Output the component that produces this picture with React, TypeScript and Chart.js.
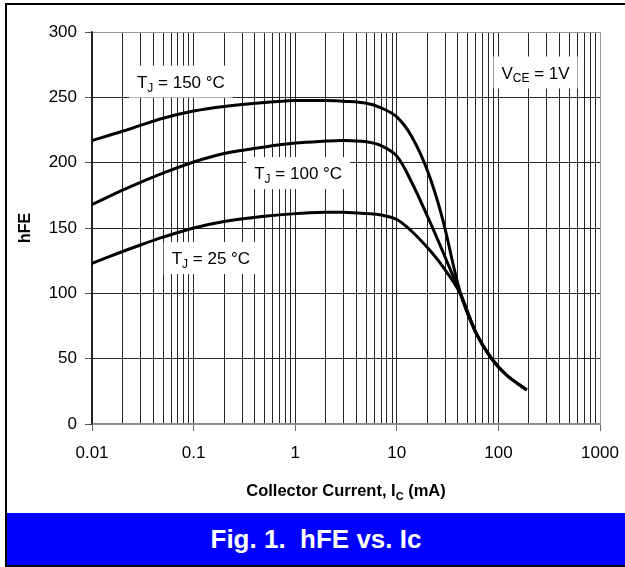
import React, { useEffect, useRef } from "react";
import { Chart, registerables } from "chart.js";

Chart.register(...registerables);

// ---- data ----
const IC_MA = [0.01, 0.02, 0.03, 0.05, 0.1, 0.2, 0.5, 1, 2, 3, 5, 7, 10, 14, 20, 28, 42, 60, 85, 120, 190];
const HFE_150 = [217, 224, 228.5, 234, 239.5, 243, 246, 247.5, 247.5, 247, 245.5, 242, 235, 220, 194, 158, 101, 70, 50.5, 37.5, 26];
const HFE_100 = [168, 179, 185, 192, 200.5, 207, 212, 215, 216.5, 217, 216, 213, 205, 185, 159, 133, 100, 70, 50.5, 37.5, 26];
const HFE_25 = [123, 132, 137, 143, 150, 155, 159, 161, 162, 162, 161, 160, 156.5, 147.5, 135, 121, 100, 70, 50.5, 37.5, 26];

const X_DECADES = [0.01, 0.1, 1, 10, 100, 1000];
const X_TICK_LABELS = ["0.01", "0.1", "1", "10", "100", "1000"];
const X_MINOR_STEPS = [1, 2, 3, 4, 5, 6, 7, 8, 9];
const Y_MIN = 0;
const Y_MAX = 300;
const Y_STEP = 50;

type Part = { t: string; sub?: boolean };
const CURVE_LABELS: { x: number; y: number; parts: Part[] }[] = [
  { x: 0.075, y: 262, parts: [{ t: "T" }, { t: "J", sub: true }, { t: " = 150 °C" }] },
  { x: 1.07, y: 192, parts: [{ t: "T" }, { t: "J", sub: true }, { t: " = 100 °C" }] },
  { x: 0.148, y: 127, parts: [{ t: "T" }, { t: "J", sub: true }, { t: " = 25 °C" }] },
  { x: 232, y: 269, parts: [{ t: "V" }, { t: "CE", sub: true }, { t: " = 1V" }] },
];
const Y_TITLE = "hFE";
const X_TITLE: Part[] = [{ t: "Collector Current, I" }, { t: "C", sub: true }, { t: " (mA)" }];
const FIG_TITLE = "Fig. 1.  hFE vs. Ic";

const FONT = '"Liberation Sans", Arial, Helvetica, sans-serif';

function isDecade(v: number) {
  const l = Math.log10(v);
  return Math.abs(l - Math.round(l)) < 1e-9;
}

function drawRich(ctx: CanvasRenderingContext2D, parts: Part[], cx: number, cy: number, size: number, bold: boolean) {
  const w = bold ? "bold " : "";
  const main = `${w}${size}px ${FONT}`;
  const subSize = Math.round(size * 0.68);
  const sub = `${w}${subSize}px ${FONT}`;
  let total = 0;
  const widths = parts.map((p) => {
    ctx.font = p.sub ? sub : main;
    const m = ctx.measureText(p.t).width;
    total += m;
    return m;
  });
  let x = cx - total / 2;
  const base = cy + size * 0.36;
  ctx.textBaseline = "alphabetic";
  ctx.textAlign = "left";
  parts.forEach((p, i) => {
    ctx.font = p.sub ? sub : main;
    ctx.fillText(p.t, x, p.sub ? base + size * 0.22 : base);
    x += widths[i];
  });
  return total;
}

function measureRich(ctx: CanvasRenderingContext2D, parts: Part[], size: number) {
  const main = `${size}px ${FONT}`;
  const sub = `${Math.round(size * 0.68)}px ${FONT}`;
  let total = 0;
  parts.forEach((p) => {
    ctx.font = p.sub ? sub : main;
    total += ctx.measureText(p.t).width;
  });
  return total;
}

const labelPlugin = {
  id: "curveLabels",
  beforeDatasetsDraw(chart: any) {
    const ctx: CanvasRenderingContext2D = chart.ctx;
    const xs = chart.scales.x;
    const ys = chart.scales.y;
    ctx.save();
    CURVE_LABELS.forEach((l) => {
      const cx = xs.getPixelForValue(l.x);
      const cy = ys.getPixelForValue(l.y);
      const w = measureRich(ctx, l.parts, 17);
      ctx.fillStyle = "#ffffff";
      ctx.fillRect(cx - w / 2 - 8, cy - 16, w + 16, 32);
      ctx.fillStyle = "#000000";
      drawRich(ctx, l.parts, cx, cy, 17, false);
    });
    ctx.restore();
  },
  afterDraw(chart: any) {
    const ctx: CanvasRenderingContext2D = chart.ctx;
    const a = chart.chartArea;
    ctx.save();
    ctx.fillStyle = "#000000";
    ctx.translate(26, (a.top + a.bottom) / 2);
    ctx.rotate(-Math.PI / 2);
    ctx.font = `bold 16px ${FONT}`;
    ctx.textAlign = "center";
    ctx.textBaseline = "middle";
    ctx.fillText(Y_TITLE, 0, 0);
    ctx.restore();
    ctx.save();
    ctx.fillStyle = "#000000";
    drawRich(ctx, X_TITLE, (a.left + a.right) / 2, a.bottom + 66, 16.5, true);
    ctx.restore();
  },
};

export default function App() {
  const ref = useRef<HTMLCanvasElement>(null);

  useEffect(() => {
    if (!ref.current) return;
    const mk = (ys: number[]) => IC_MA.map((x, i) => ({ x, y: ys[i] }));
    const ds = (ys: number[]) => ({
      data: mk(ys),
      borderColor: "#000000",
      borderWidth: 3,
      pointRadius: 0,
      fill: false,
      tension: 0.35,
    });
    const chart = new Chart(ref.current, {
      type: "line",
      data: { datasets: [ds(HFE_150), ds(HFE_100), ds(HFE_25)] },
      options: {
        animation: false,
        responsive: false,
        events: [],
        layout: { padding: { left: 0, top: 32, right: 25, bottom: 0 } },
        plugins: { legend: { display: false }, tooltip: { enabled: false }, title: { display: false } },
        scales: {
          x: {
            type: "logarithmic",
            min: X_DECADES[0],
            max: X_DECADES[X_DECADES.length - 1],
            afterFit: (s: any) => {
              s.height = 89;
              s.paddingLeft = 0;
              s.paddingRight = 0;
            },
            afterBuildTicks: (s: any) => {
              const t: any[] = [];
              for (let d = 0; d < X_DECADES.length; d++) {
                if (d === X_DECADES.length - 1) {
                  t.push({ value: X_DECADES[d], major: true });
                } else {
                  X_MINOR_STEPS.forEach((m) => t.push({ value: X_DECADES[d] * m, major: m === 1 }));
                }
              }
              s.ticks = t;
            },
            ticks: {
              autoSkip: false,
              maxRotation: 0,
              padding: 12,
              color: "#000",
              font: { family: FONT, size: 17 },
              callback: (v: any) => {
                const n = Number(v);
                if (!isDecade(n)) return "";
                const i = X_DECADES.findIndex((d) => Math.abs(Math.log10(d) - Math.log10(n)) < 1e-9);
                return i >= 0 ? X_TICK_LABELS[i] : "";
              },
            },
            grid: {
              color: (c: any) => (c.tick && Math.abs(c.tick.value - 1000) < 1e-6 ? "#999999" : "#262626"),
              lineWidth: 1,
              tickLength: 7,
              tickColor: (c: any) => (c.tick && isDecade(c.tick.value) ? "#666666" : "rgba(0,0,0,0)"),
            },
            border: { display: true, color: "#888888", width: 1.5 },
          },
          y: {
            type: "linear",
            min: Y_MIN,
            max: Y_MAX,
            afterFit: (s: any) => {
              s.width = 92;
            },
            ticks: {
              stepSize: Y_STEP,
              padding: 8,
              color: "#000",
              font: { family: FONT, size: 17 },
            },
            grid: {
              color: (c: any) => (c.tick && (c.tick.value === Y_MAX || c.tick.value === Y_MIN) ? "#999999" : "#262626"),
              lineWidth: 1,
              tickLength: 7,
              tickColor: "#555555",
            },
            border: { display: true, color: "#222222", width: 1.5 },
          },
        },
      },
      plugins: [labelPlugin],
    });
    return () => chart.destroy();
  }, []);

  return (
    <div style={{ position: "absolute", left: 0, top: 0, width: 625, height: 567, overflow: "hidden", background: "#fff" }}>
      <div
        style={{
          position: "absolute",
          left: 5,
          top: 3,
          width: 640,
          height: 564,
          border: "2px solid #000",
          boxSizing: "border-box",
        }}
      />
      <canvas ref={ref} width={625} height={513} style={{ position: "absolute", left: 0, top: 0, width: 625, height: 513 }} />
      <div
        style={{
          position: "absolute",
          left: 7,
          top: 513,
          width: 618,
          height: 52,
          background: "#0000ff",
          color: "#fff",
          fontFamily: FONT,
          fontWeight: "bold",
          fontSize: 26,
          lineHeight: "52px",
          textAlign: "center",
          whiteSpace: "pre",
        }}
      >
        {FIG_TITLE}
      </div>
    </div>
  );
}
